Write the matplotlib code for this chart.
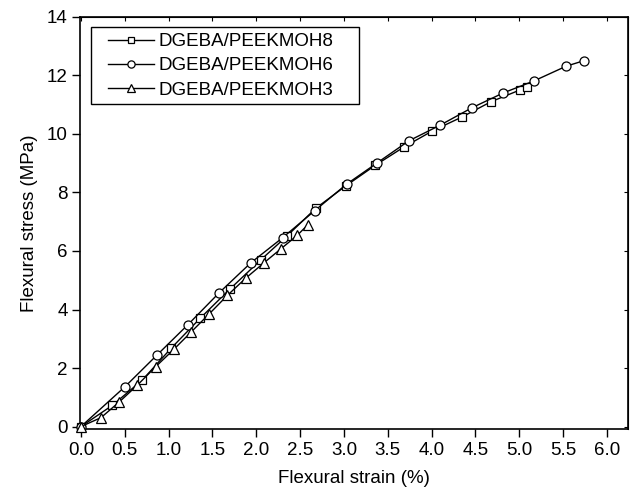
import matplotlib
matplotlib.use("Agg")
import matplotlib.pyplot as plt
from matplotlib.patches import Rectangle
from matplotlib.ticker import FormatStrFormatter

plt.rcParams['font.family'] = ['Liberation Sans', 'DejaVu Sans']

# Data
strain_8 = [0.0, 0.36, 0.70, 1.03, 1.36, 1.70, 2.05, 2.35, 2.68, 3.02, 3.36, 3.69, 4.01, 4.35, 4.68, 5.01, 5.09]
stress_8 = [0.0, 0.73, 1.59, 2.68, 3.70, 4.70, 5.69, 6.51, 7.46, 8.22, 8.93, 9.56, 10.10, 10.58, 11.10, 11.50, 11.59]

strain_6 = [0.0, 0.505, 0.866, 1.22, 1.58, 1.94, 2.30, 2.665, 3.03, 3.38, 3.74, 4.10, 4.46, 4.82, 5.17, 5.535, 5.74]
stress_6 = [0.0, 1.37, 2.44, 3.48, 4.58, 5.60, 6.45, 7.37, 8.28, 9.01, 9.76, 10.30, 10.89, 11.40, 11.81, 12.31, 12.50]

strain_3 = [0.0, 0.23, 0.44, 0.645, 0.854, 1.06, 1.26, 1.46, 1.67, 1.88, 2.09, 2.28, 2.47, 2.59]
stress_3 = [0.0, 0.31, 0.85, 1.42, 2.05, 2.64, 3.24, 3.84, 4.48, 5.07, 5.60, 6.07, 6.54, 6.90]

labels = ["DGEBA/PEEKMOH8", "DGEBA/PEEKMOH6", "DGEBA/PEEKMOH3"]
x_ticks = [0.0, 0.5, 1.0, 1.5, 2.0, 2.5, 3.0, 3.5, 4.0, 4.5, 5.0, 5.5, 6.0]
y_ticks = [0, 2, 4, 6, 8, 10, 12, 14]

fig = plt.figure(figsize=(6.42, 4.96), dpi=100)
ax = fig.add_axes([80/642, 1-429.3/496, 548/642, 412.6/496])

common = dict(color='black', lw=1.0, markerfacecolor='white', markeredgecolor='black',
              markeredgewidth=0.9, clip_on=False, zorder=3)
ax.plot(strain_8, stress_8, marker='s', ms=5.5, label=labels[0], **common)
ax.plot(strain_6, stress_6, marker='o', ms=6.5, label=labels[1], **common)
ax.plot(strain_3, stress_3, marker='^', ms=7.8, label=labels[2], **common)

ax.set_xlim(-0.01, 6.24)
ax.set_ylim(-0.09, 14)
ax.set_xticks(x_ticks)
ax.set_yticks(y_ticks)
ax.xaxis.set_major_formatter(FormatStrFormatter('%.1f'))
ax.tick_params(axis='both', direction='out', length=6, width=1.0, labelsize=13.5, pad=3)

for s in ax.spines.values():
    s.set_linewidth(1.2)

secx = ax.secondary_xaxis('top')
secx.set_xticks(x_ticks)
secx.tick_params(direction='in', length=3, width=0.8, labeltop=False)
secy = ax.secondary_yaxis('right')
secy.set_yticks(y_ticks)
secy.tick_params(direction='in', length=3, width=0.8, labelright=False)

ax.set_xlabel("Flexural strain (%)", fontsize=13.5, labelpad=8)
ax.set_ylabel("Flexural stress (MPa)", fontsize=13.5, labelpad=6)

ax.legend(loc='upper left', bbox_to_anchor=((108-80)/548, 1-(33.0-16.7)/412.6), borderaxespad=0,
          fontsize=13.5, frameon=False, handlelength=2.45, handletextpad=0.27,
          borderpad=0, labelspacing=0.38, markerscale=0.8)
ax.add_patch(Rectangle(((91-80)/548, 1-(104-16.7)/412.6), (359-91)/548, (104-26.7)/412.6,
                       transform=ax.transAxes, fill=False, edgecolor='black', lw=1.0, zorder=5))

fig.savefig("out.png", dpi=100)
